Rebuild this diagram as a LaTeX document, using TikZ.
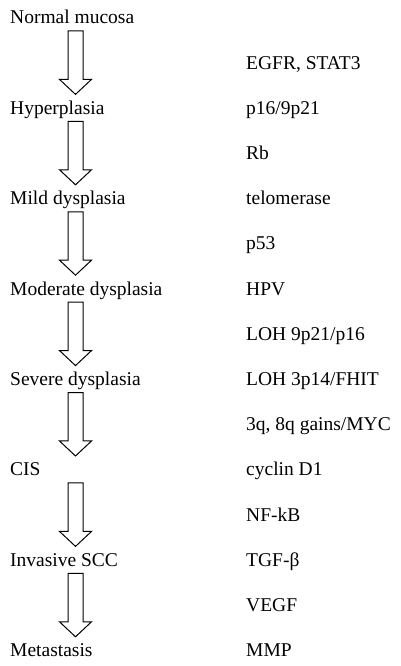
\documentclass[tikz,border=0pt]{standalone}
\usepackage{fontspec}
\setmainfont{Liberation Serif}
\usetikzlibrary{calc}

\tikzset{
  stage/.style={anchor=base west, inner sep=0pt, font=\fontsize{19.5}{22}\selectfont},
  marker/.style={stage},
  fatarrow/.style={draw, line width=1pt, line join=miter}
}
% hollow block arrow from the base of one stage to the next
\newcommand{\stagearrow}[2]{%
  \draw[fatarrow] ($(ax |- #1.base)+(-7.5,-7)$) -- ($(ax |- #2.base)+(-7.5,35)$)
    -- ($(ax |- #2.base)+(-16,35)$) -- ($(ax |- #2.base)+(0,20)$)
    -- ($(ax |- #2.base)+(16,35)$) -- ($(ax |- #2.base)+(7.5,35)$)
    -- ($(ax |- #1.base)+(7.5,-7)$) -- cycle;}

\begin{document}
\begin{tikzpicture}[x=1pt,y=1pt]
    \useasboundingbox (0,0) rectangle (400,666);
    \coordinate (ax) at (75.5,0);
    % stages
    \node[stage] (normal) at (10,642) {Normal mucosa};
    \node[stage] (hyper) at (10,551.6) {Hyperplasia};
    \node[stage] (mild) at (10,461.2) {Mild dysplasia};
    \node[stage] (moderate) at (10,370.8) {Moderate dysplasia};
    \node[stage] (severe) at (10,280.4) {Severe dysplasia};
    \node[stage] (cis) at (10,190) {CIS};
    \node[stage] (invasive) at (10,99.6) {Invasive SCC};
    \node[stage] (meta) at (10,9.2) {Metastasis};
    % molecular markers
    \node[marker] (egfr) at (246,596.8) {EGFR, STAT3};
    \node[marker] (p16) at (246,551.6) {p16/9p21};
    \node[marker] (rb) at (246,506.4) {Rb};
    \node[marker] (telo) at (246,461.2) {telomerase};
    \node[marker] (p53) at (246,416) {p53};
    \node[marker] (hpv) at (246,370.8) {HPV};
    \node[marker] (loha) at (246,325.6) {LOH 9p21/p16};
    \node[marker] (lohb) at (246,280.4) {LOH 3p14/FHIT};
    \node[marker] (gains) at (246,235.2) {3q, 8q gains/MYC};
    \node[marker] (cyclin) at (246,190) {cyclin D1};
    \node[marker] (nfkb) at (246,144.8) {NF-kB};
    \node[marker] (tgf) at (246,99.6) {TGF-β};
    \node[marker] (vegf) at (246,54.4) {VEGF};
    \node[marker] (mmp) at (246,9.2) {MMP};
    % arrows
    \stagearrow{normal}{hyper}
    \stagearrow{hyper}{mild}
    \stagearrow{mild}{moderate}
    \stagearrow{moderate}{severe}
    \stagearrow{severe}{cis}
    \stagearrow{cis}{invasive}
    \stagearrow{invasive}{meta}
\end{tikzpicture}
\end{document}
